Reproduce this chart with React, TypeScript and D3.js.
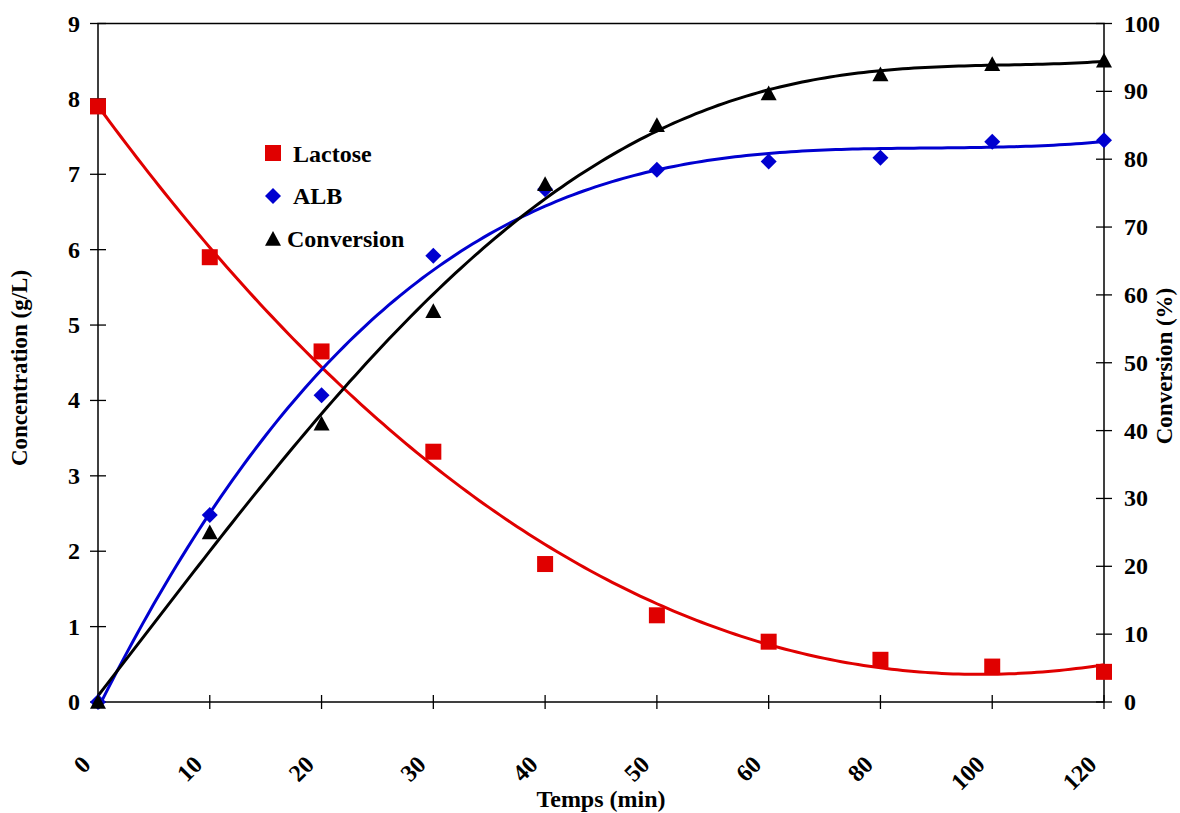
import React from "react";
import * as d3 from "d3";

const categories = ["0", "10", "20", "30", "40", "50", "60", "80", "100", "120"];
const lactose = [7.9, 5.9, 4.65, 3.32, 1.83, 1.15, 0.8, 0.56, 0.47, 0.4];
const alb = [0, 2.48, 4.07, 5.92, 6.8, 7.06, 7.17, 7.22, 7.43, 7.45];
const conversion = [0, 25, 41, 57.6, 76.3, 85, 89.7, 92.5, 94, 94.5];
const leftTicks = [0, 1, 2, 3, 4, 5, 6, 7, 8, 9];
const rightTicks = [0, 10, 20, 30, 40, 50, 60, 70, 80, 90, 100];

const W = 1180;
const H = 813;
const FONT = "'Liberation Serif', 'Times New Roman', serif";

function polyFit(ys: number[], degree: number) {
  const n = degree + 1;
  const A: number[][] = Array.from({ length: n }, () => new Array(n + 1).fill(0));
  ys.forEach((y, i) => {
    const x = i;
    for (let r = 0; r < n; r++) {
      for (let c = 0; c < n; c++) A[r][c] += Math.pow(x, r + c);
      A[r][n] += y * Math.pow(x, r);
    }
  });
  for (let p = 0; p < n; p++) {
    let max = p;
    for (let r = p + 1; r < n; r++) if (Math.abs(A[r][p]) > Math.abs(A[max][p])) max = r;
    [A[p], A[max]] = [A[max], A[p]];
    for (let r = p + 1; r < n; r++) {
      const f = A[r][p] / A[p][p];
      for (let c = p; c <= n; c++) A[r][c] -= f * A[p][c];
    }
  }
  const coef = new Array(n).fill(0);
  for (let r = n - 1; r >= 0; r--) {
    let s = A[r][n];
    for (let c = r + 1; c < n; c++) s -= A[r][c] * coef[c];
    coef[r] = s / A[r][r];
  }
  return (x: number) => coef.reduce((acc, c, k) => acc + c * Math.pow(x, k), 0);
}

export default function App() {
  const left = 98, right = 1104, top = 23.5, bottom = 702;
  const x = d3.scalePoint<string>().domain(categories).range([left, right]);
  const xi = d3.scaleLinear().domain([0, categories.length - 1]).range([left, right]);
  const yL = d3.scaleLinear().domain([0, 9]).range([bottom, top]);
  const yR = d3.scaleLinear().domain([0, 100]).range([bottom, top]);

  const samples = d3.range(0, categories.length - 1 + 0.0001, 0.05);
  const fitL = polyFit(lactose, 3);
  const fitA = polyFit(alb, 3);
  const fitC = polyFit(conversion, 4);
  const lineL = d3.line<number>().x((t) => xi(t)).y((t) => yL(fitL(t)));
  const lineA = d3.line<number>().x((t) => xi(t)).y((t) => yL(fitA(t)));
  const lineC = d3.line<number>().x((t) => xi(t)).y((t) => yR(fitC(t)));

  const square = (cx: number, cy: number, s = 16) => `M${cx - s / 2},${cy - s / 2}h${s}v${s}h${-s}Z`;
  const diamond = (cx: number, cy: number, s = 8) => `M${cx},${cy - s}L${cx + s},${cy}L${cx},${cy + s}L${cx - s},${cy}Z`;
  const tri = (cx: number, cy: number, s = 8) => `M${cx},${cy - s}L${cx + s},${cy + s * 0.85}L${cx - s},${cy + s * 0.85}Z`;

  return (
    <svg width={W} height={H} style={{ position: "absolute", left: 0, top: 0, background: "#fff" }} fontFamily={FONT} fontWeight="bold">
      <rect x={left} y={top} width={right - left} height={bottom - top} fill="none" stroke="#000" strokeWidth={1.5} />
      {leftTicks.map((t) => (
        <g key={"l" + t}>
          <line x1={left - 8} x2={left + 8} y1={yL(t)} y2={yL(t)} stroke="#000" strokeWidth={1.3} />
          <text x={left - 18} y={yL(t) + 8} textAnchor="end" fontSize={24}>{t}</text>
        </g>
      ))}
      {rightTicks.map((t) => (
        <g key={"r" + t}>
          <line x1={right - 8} x2={right + 8} y1={yR(t)} y2={yR(t)} stroke="#000" strokeWidth={1.3} />
          <text x={right + 20} y={yR(t) + 8} textAnchor="start" fontSize={24}>{t}</text>
        </g>
      ))}
      {categories.map((c) => (
        <g key={"x" + c}>
          <line x1={x(c)!} x2={x(c)!} y1={bottom - 7} y2={bottom + 7} stroke="#000" strokeWidth={1.3} />
          <text transform={`translate(${x(c)! - 6},${bottom + 64}) rotate(-45)`} textAnchor="end" fontSize={24}>{c}</text>
        </g>
      ))}
      <path d={lineL(samples) || ""} fill="none" stroke="#e00000" strokeWidth={3} />
      <path d={lineA(samples) || ""} fill="none" stroke="#0000d0" strokeWidth={3} />
      <path d={lineC(samples) || ""} fill="none" stroke="#000" strokeWidth={3} />
      {lactose.map((v, i) => (
        <path key={"ml" + i} d={square(x(categories[i])!, yL(v))} fill="#e00000" />
      ))}
      {alb.map((v, i) => (
        <path key={"ma" + i} d={diamond(x(categories[i])!, yL(v))} fill="#0000d0" />
      ))}
      {conversion.map((v, i) => (
        <path key={"mc" + i} d={tri(x(categories[i])!, yR(v))} fill="#000" />
      ))}
      <g>
        <path d={square(273, 153)} fill="#e00000" />
        <text x={293} y={162} fontSize={24}>Lactose</text>
        <path d={diamond(273, 196)} fill="#0000d0" />
        <text x={293} y={204} fontSize={24}>ALB</text>
        <path d={tri(273, 239)} fill="#000" />
        <text x={287} y={247} fontSize={24}>Conversion</text>
      </g>
      <text transform={`translate(27,368) rotate(-90)`} textAnchor="middle" fontSize={23}>Concentration (g/L)</text>
      <text transform={`translate(1172,366) rotate(-90)`} textAnchor="middle" fontSize={23}>Conversion (%)</text>
      <text x={601} y={807} textAnchor="middle" fontSize={24}>Temps (min)</text>
    </svg>
  );
}
